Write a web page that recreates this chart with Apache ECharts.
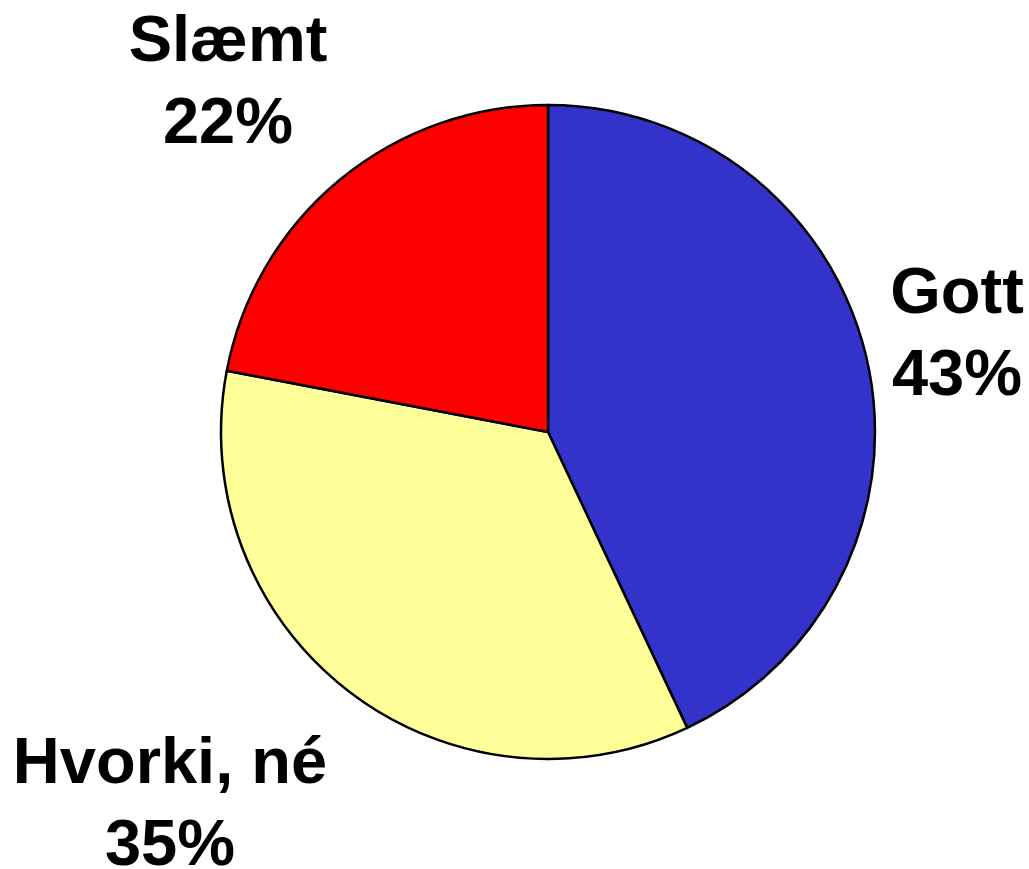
<!DOCTYPE html>
<html>
<head>
<meta charset="utf-8">
<script src="https://cdn.jsdelivr.net/npm/echarts@6/dist/echarts.min.js"></script>
<style>html,body{margin:0;padding:0;background:#fff;}#c{width:1029px;height:869px;}</style>
</head>
<body>
<div id="c"></div>
<script>
const categories = ['Gott', 'Hvorki, né', 'Slæmt'];
const values = [43, 35, 22];
const colors = ['#3333CC', '#FFFF99', '#FF0000'];
const labelPos = [[957, 336], [170, 806], [228, 84]];

const chart = echarts.init(document.getElementById('c'), null, {renderer: 'canvas'});
chart.setOption({
  backgroundColor: '#ffffff',
  animation: false,
  series: [{
    type: 'pie',
    center: [548, 432],
    radius: 327,
    startAngle: 90,
    clockwise: true,
    data: categories.map((c, i) => ({name: c, value: values[i], itemStyle: {color: colors[i]}})),
    itemStyle: {borderColor: '#000', borderWidth: 2.5},
    label: {
      show: true,
      position: 'outside',
      formatter: '{b}\n{d}%',
      fontFamily: 'Liberation Sans, Arial, sans-serif',
      fontWeight: 'bold',
      fontSize: 65,
      lineHeight: 82,
      color: '#000',
      align: 'center',
      overflow: 'none',
      width: 400
    },
    labelLine: {show: false},
    labelLayout: function (p) {
      const pos = labelPos[p.dataIndex];
      return {x: pos[0], y: pos[1], align: 'center', verticalAlign: 'middle'};
    },
    emphasis: {disabled: true}
  }]
});
</script>
</body>
</html>
